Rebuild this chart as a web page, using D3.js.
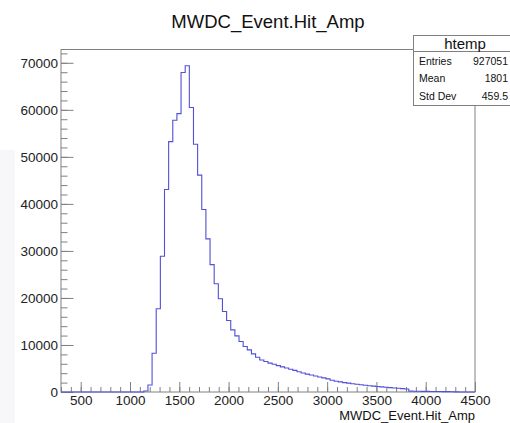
<!DOCTYPE html>
<html lang="en">
<head>
<meta charset="UTF-8" />
<title>MWDC_Event.Hit_Amp</title>
<script src="https://d3js.org/d3.v7.min.js"></script>
<style>
  html, body { margin: 0; padding: 0; background: #fff; }
  svg { display: block; font-family: "Liberation Sans", Arial, sans-serif; }
  .axis path, .axis line { stroke: #808080; }
  .axis text { fill: #222; font-size: 13.5px; }
</style>
</head>
<body>
<div id="chart"></div>
<script>
// histogram binning (htemp, 100 bins)
const xMin = 300, xMax = 4500, nBins = 100;
const counts = [
  0, 0, 0, 0, 0, 0, 0, 0, 0, 0,
  0, 0, 0, 0, 0, 0, 0, 0, 0, 0,
  200, 1500, 8250, 17700, 28850, 43070, 53240, 57780, 59200, 67950,
  69360, 60490, 52670, 46120, 38800, 32560, 27080, 23030, 19830, 17120,
  15200, 13220, 11940, 10730, 9660, 8960, 8100, 7390, 6820, 6500,
  6150, 5900, 5600, 5350, 5100, 4850, 4600, 4300, 4050, 3800,
  3600, 3400, 3200, 3000, 2800, 2500, 2300, 2150, 2000, 1880,
  1760, 1650, 1540, 1440, 1340, 1250, 1160, 1080, 1000, 930,
  860, 790, 720, 650, 180, 160, 150, 140, 130, 120,
  110, 100, 90, 80, 60, 20, 10, 5, 0, 0
];
const xTicks = [500, 1000, 1500, 2000, 2500, 3000, 3500, 4000, 4500];
const yTicks = [0, 10000, 20000, 30000, 40000, 50000, 60000, 70000];
const statNames = ["Entries", "Mean", "Std Dev"];
const statValues = ["927051", "1801", "459.5"];

const width = 510, height = 423;
const frame = { left: 61, right: 475, top: 49.5, bottom: 392 };

const svg = d3.select("#chart").append("svg")
  .attr("width", width).attr("height", height);

// faint strip on the left edge of the screenshot
svg.append("rect").attr("x", 0).attr("y", 150).attr("width", 15).attr("height", 273)
  .attr("fill", "#f7f7fa");

const binW = (xMax - xMin) / nBins;
const yMax = d3.max(counts) * 1.05;

const x = d3.scaleLinear().domain([xMin, xMax]).range([frame.left, frame.right]);
const y = d3.scaleLinear().domain([0, yMax]).range([frame.bottom, frame.top]);

// frame
svg.append("rect")
  .attr("x", frame.left).attr("y", frame.top)
  .attr("width", frame.right - frame.left).attr("height", frame.bottom - frame.top)
  .attr("fill", "none").attr("stroke", "#808080");

// minor ticks
svg.append("g").attr("class", "axis")
  .attr("transform", `translate(0,${frame.bottom})`)
  .call(d3.axisBottom(x).tickValues(d3.range(xMin, xMax + 1, 100)).tickSize(-5).tickFormat(""))
  .call(g => g.select(".domain").remove());
svg.append("g").attr("class", "axis")
  .attr("transform", `translate(${frame.left},0)`)
  .call(d3.axisLeft(y).tickValues(d3.range(0, yMax, 2000)).tickSize(-6.5).tickFormat(""))
  .call(g => g.select(".domain").remove());

// major ticks + labels
svg.append("g").attr("class", "axis")
  .attr("transform", `translate(0,${frame.bottom})`)
  .call(d3.axisBottom(x).tickValues(xTicks).tickSize(-10).tickPadding(3).tickFormat(d3.format("d")))
  .call(g => g.select(".domain").remove());
svg.append("g").attr("class", "axis")
  .attr("transform", `translate(${frame.left},0)`)
  .call(d3.axisLeft(y).tickValues(yTicks).tickSize(-12.5).tickPadding(3).tickFormat(d3.format("d")))
  .call(g => g.select(".domain").remove());

// histogram outline
const pts = [[xMin, 0]];
counts.forEach((c, i) => {
  const lo = xMin + i * binW;
  pts.push([lo, c], [lo + binW, c]);
});
pts.push([xMax, 0]);
svg.append("path")
  .attr("d", d3.line().x(d => x(d[0])).y(d => y(d[1]))(pts))
  .attr("fill", "none")
  .attr("stroke", "#5050d8")
  .attr("stroke-width", 1.1);

// titles
svg.append("text")
  .attr("x", 268).attr("y", 28)
  .attr("text-anchor", "middle")
  .attr("font-size", 18.5).attr("fill", "#111")
  .text("MWDC_Event.Hit_Amp");

svg.append("text")
  .attr("x", frame.right).attr("y", 420)
  .attr("text-anchor", "end")
  .attr("font-size", 13).attr("fill", "#111")
  .text("MWDC_Event.Hit_Amp");

// stats box
const box = svg.append("g");
box.append("rect")
  .attr("x", 413.5).attr("y", 35.5).attr("width", 110).attr("height", 70)
  .attr("fill", "#fff").attr("stroke", "#808080");
box.append("line")
  .attr("x1", 413.5).attr("x2", 524).attr("y1", 51.5).attr("y2", 51.5)
  .attr("stroke", "#808080");
box.append("text")
  .attr("x", 465).attr("y", 48.5).attr("text-anchor", "middle")
  .attr("font-size", 15).attr("fill", "#111")
  .text("htemp");
statNames.forEach((n, i) => {
  const yy = 64.5 + i * 17.5;
  box.append("text").attr("x", 419).attr("y", yy)
    .attr("font-size", 10.5).attr("fill", "#111").text(n);
  box.append("text").attr("x", 508).attr("y", yy).attr("text-anchor", "end")
    .attr("font-size", 10.5).attr("fill", "#111").text(statValues[i]);
});
</script>
</body>
</html>
